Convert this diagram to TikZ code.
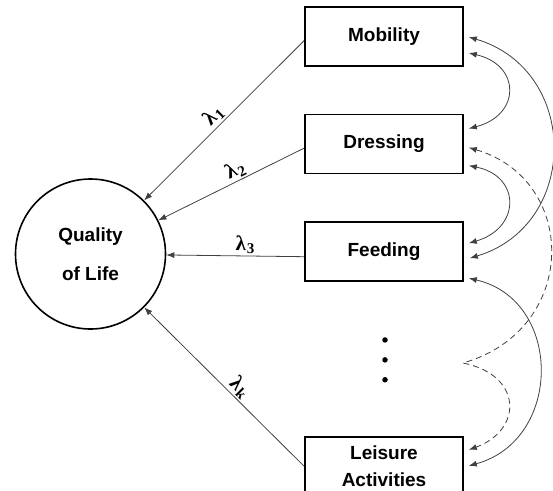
\documentclass[tikz,border=0pt]{standalone}
\usepackage{fontspec}
\setmainfont{Liberation Sans}
\newfontfamily\lamfont{Liberation Serif}
\usetikzlibrary{arrows.meta, positioning}
\newcommand{\lam}[1]{{\lamfont\bfseries λ\kern1pt\raisebox{-3pt}{\fontsize{15}{15}\selectfont #1}}}

\begin{document}
\begin{tikzpicture}[
  x=1pt, y=1pt,
  node distance=47pt and 0pt,
  item/.style={rectangle, draw, line width=1.6pt, minimum height=59pt, minimum width=158pt, align=center, font=\fontsize{19}{27}\selectfont\bfseries},
  factor/.style={circle, draw, line width=1.6pt, minimum size=150pt, align=center, font=\fontsize{19}{39}\selectfont\bfseries},
  load/.style={-{Latex[length=8pt,width=6pt]}, draw=black!75, line width=0.8pt},
  cov/.style={{Latex[length=8pt,width=6pt]}-{Latex[length=8pt,width=6pt]}, draw=black!75, line width=0.8pt},
  lam/.style={font=\fontsize{21}{23}\selectfont, sloped, above, inner sep=1.5pt},
  dot/.style={circle, fill, inner sep=0pt, minimum size=5.5pt}
  ]
  \useasboundingbox (0,0) rectangle (553,-490);
  \node[factor] (qol) at (90.5,-254) {Quality\\of Life};
  \node[item] (mob) at (384,-36.5) {Mobility};
  \node[item, below=of mob] (dress) {Dressing};
  \node[item, below=of dress] (feed) {Feeding};
  \node[item, below=154pt of feed] (leis) {Leisure\\Activities};
  \node[dot, below=55pt of feed, xshift=1pt] (d1) {};
  \node[dot, below=14pt of d1] (d2) {};
  \node[dot, below=14pt of d2] (d3) {};
  \coordinate (gap) at (463,-363);
  % loadings
  \draw[load] ([yshift=-4pt]mob.west) -- node[lam, pos=0.52] {\lam{1}} (qol);
  \draw[load] ([yshift=-4pt]dress.west) -- node[lam, pos=0.44] {\lam{2}} (qol);
  \draw[load] ([yshift=-5pt]feed.west) -- node[lam, pos=0.43] {\lam{3}} (qol);
  \draw[load] (leis.west) -- node[lam, pos=0.45] {\lam{k}} (qol);
  % correlations
  \draw[cov] ([shift={(5pt,-0.5pt)}]mob.east) .. controls (580,-70) and (580,-225) .. ([shift={(6pt,-6.5pt)}]feed.east);
  \draw[cov] ([shift={(5pt,-16.5pt)}]mob.east) .. controls (521,-65) and (521,-115) .. ([shift={(5pt,15.5pt)}]dress.east);
  \draw[cov] ([shift={(5pt,-21.5pt)}]dress.east) .. controls (521,-176) and (521,-228) .. ([shift={(5pt,8.5pt)}]feed.east);
  \draw[cov] ([shift={(5pt,-26.5pt)}]feed.east) .. controls (563,-300) and (563,-440) .. ([shift={(5pt,0.5pt)}]leis.east);
  \draw[cov, dash pattern=on 6pt off 4pt] ([shift={(5pt,-3.5pt)}]dress.east) .. controls (579,-180) and (579,-330) .. (gap) .. controls (523,-375) and (523,-430) .. ([shift={(5pt,16.5pt)}]leis.east);
\end{tikzpicture}
\end{document}
